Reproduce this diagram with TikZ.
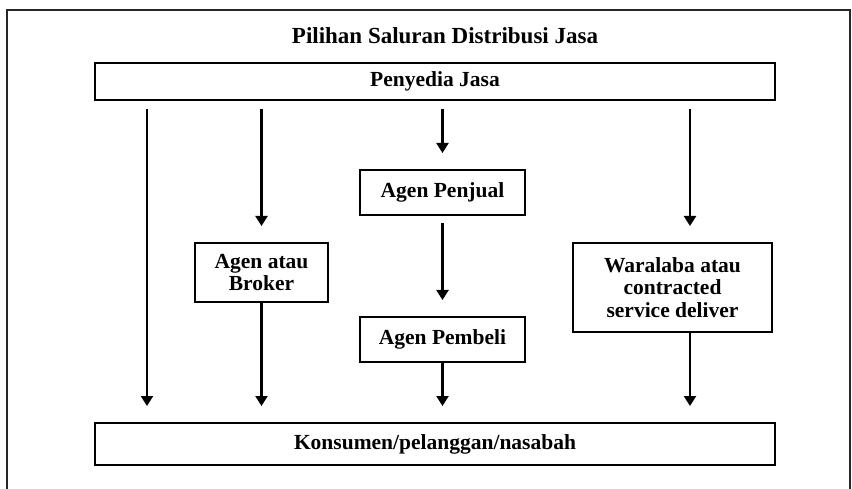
\documentclass[tikz,border=0pt]{standalone}
\usepackage{fontspec}
\setmainfont{Liberation Serif}
\usetikzlibrary{positioning,arrows.meta}

\begin{document}
\begin{tikzpicture}[x=1pt,y=-1pt,
  box/.style={draw,line width=2pt,inner sep=0pt,align=center,
    font=\fontsize{21.5}{22.5}\selectfont\bfseries},
  arr/.style={line width=2.2pt,-{Triangle[width=12pt,length=10pt]}}]
  \useasboundingbox (0,0) rectangle (852,489);
  % outer frame, cut off at the bottom
  \draw[line width=1.4pt,black!85] (7,495) -- (7,10) -- (850,10) -- (850,495);

  \node (title) at (445,36) {\fontsize{23}{25}\selectfont\bfseries Pilihan Saluran Distribusi Jasa};

  \node[box,minimum width=680pt,minimum height=37pt] (penyedia) at (435,81.5) {Penyedia Jasa};
  \node[box,minimum width=165pt,minimum height=45pt] (penjual) at (442.5,192.5) {Agen Penjual};
  \node[box,minimum width=133pt,minimum height=59pt] (broker) at (261.5,272.5) {Agen atau\\Broker};
  \node[box,minimum width=165pt,minimum height=45pt] (pembeli) at (442.5,339.5) {Agen Pembeli};
  \node[box,minimum width=199pt,minimum height=89pt] (waralaba) at (672.5,287.5) {Waralaba atau\\contracted\\service deliver};
  \node[box,minimum width=680pt,minimum height=42pt] (konsumen) at (435,444) {Konsumen/pelanggan/nasabah};

  \coordinate (lanea) at (147,0);
  \coordinate (laned) at (690,0);

  % direct channel
  \draw[arr,shorten <=8pt,shorten >=16pt] (penyedia.south -| lanea) -- (konsumen.north -| lanea);
  % via agent or broker
  \draw[arr,shorten <=8pt,shorten >=16pt] (penyedia.south -| broker) -- (broker.north);
  \draw[arr,shorten >=16pt] (broker.south) -- (konsumen.north -| broker);
  % via selling and buying agents
  \draw[arr,shorten <=8pt,shorten >=16pt] (penyedia.south -| penjual) -- (penjual.north);
  \draw[arr,shorten <=7pt,shorten >=16pt] (penjual.south) -- (pembeli.north);
  \draw[arr,shorten >=16pt] (pembeli.south) -- (konsumen.north -| pembeli);
  % via franchise
  \draw[arr,shorten <=8pt,shorten >=16pt] (penyedia.south -| laned) -- (waralaba.north -| laned);
  \draw[arr,shorten >=16pt] (waralaba.south -| laned) -- (konsumen.north -| laned);
\end{tikzpicture}
\end{document}
